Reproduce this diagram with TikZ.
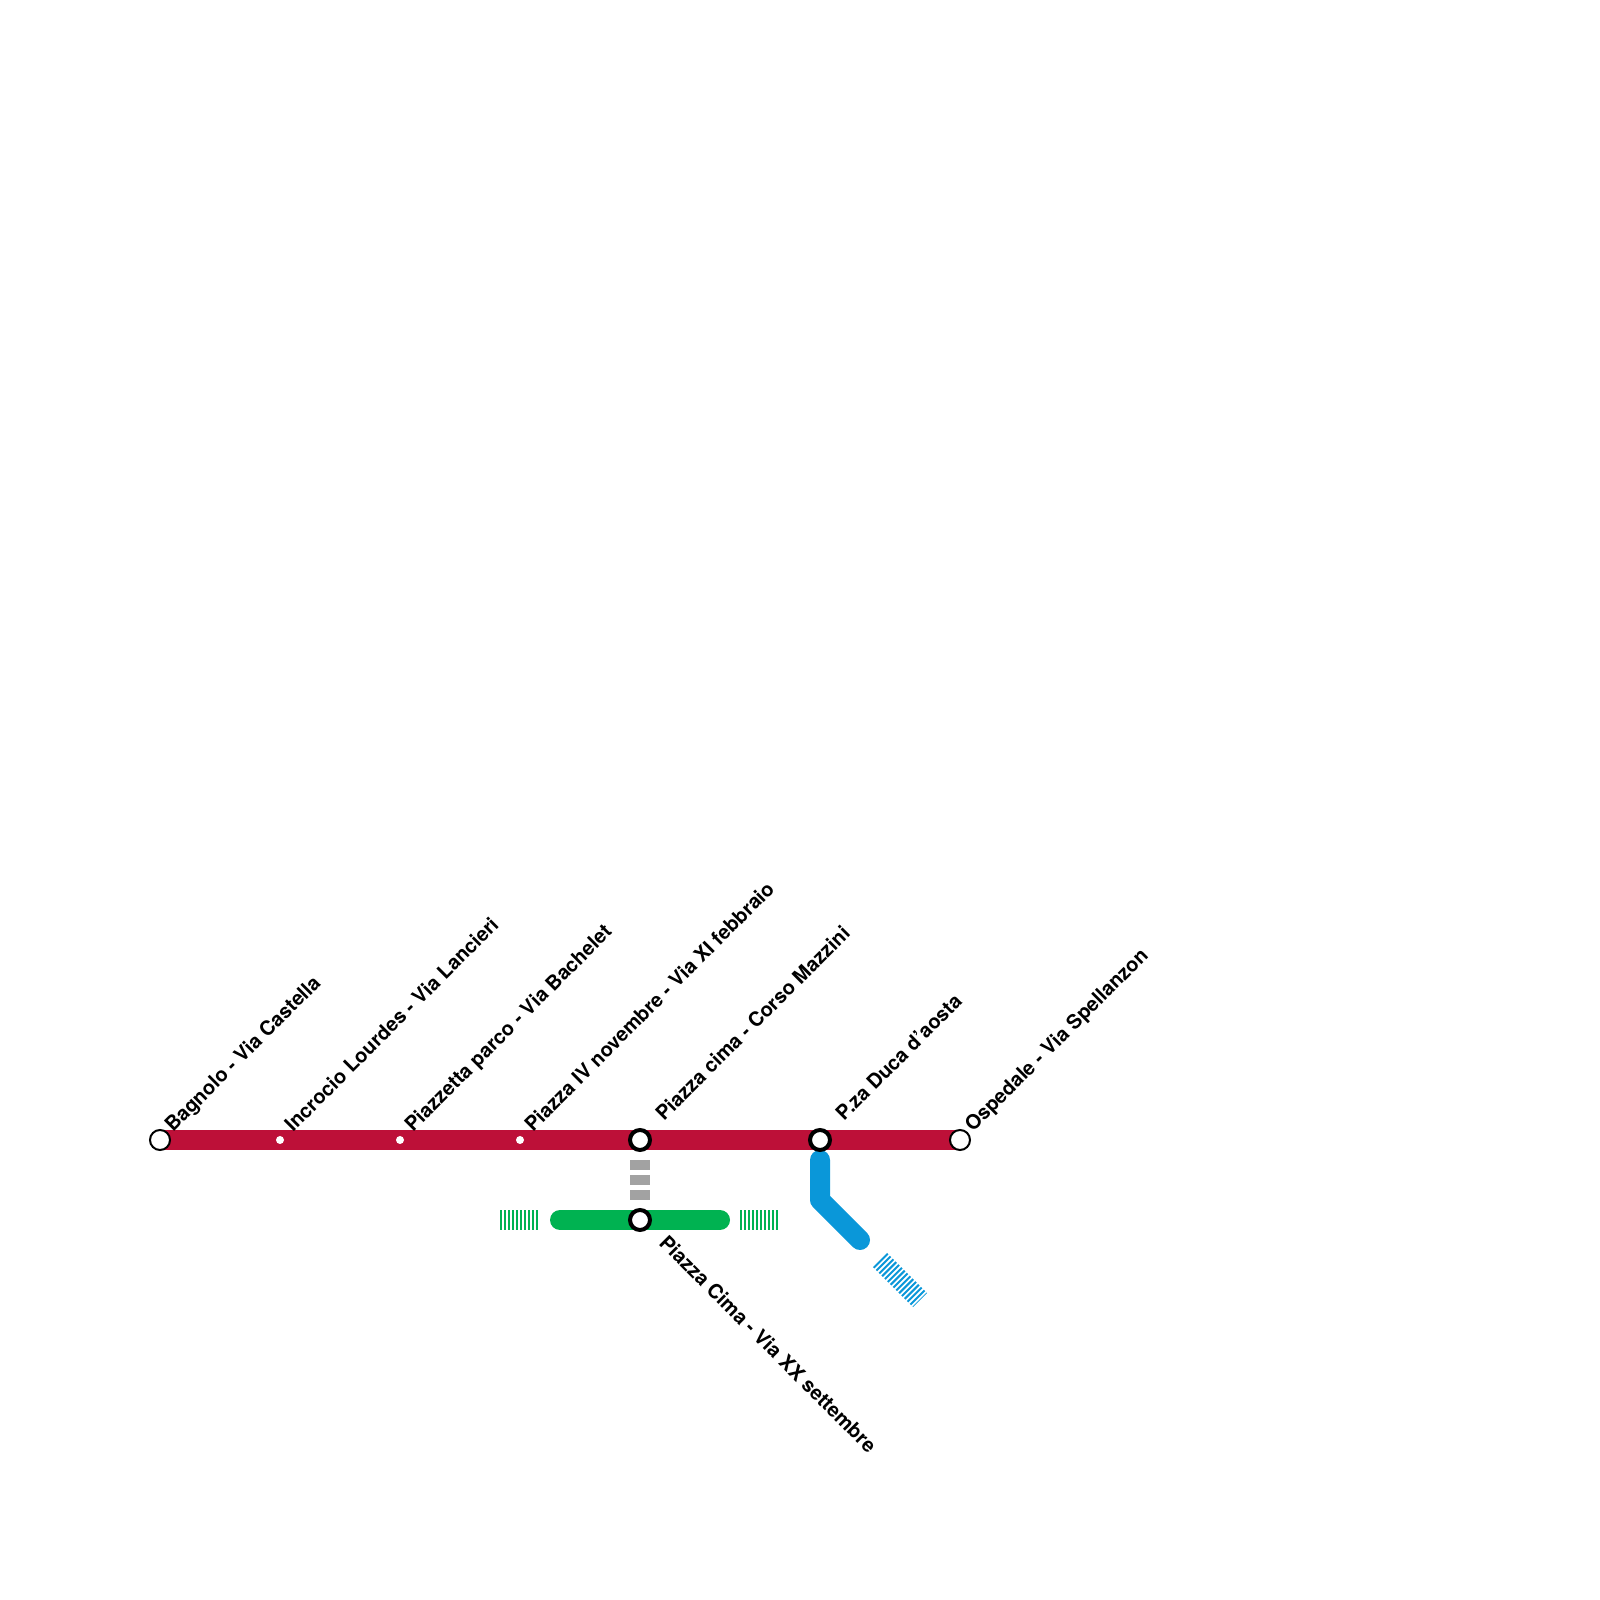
\documentclass[tikz,border=0pt]{standalone}
\usepackage{fontspec}
\setmainfont{TeX Gyre Heros}
\usetikzlibrary{backgrounds}
\definecolor{linered}{HTML}{BD1038}
\definecolor{linegreen}{HTML}{00B251}
\definecolor{lineblue}{HTML}{0A97D9}
\definecolor{linegray}{HTML}{A2A2A2}
\tikzset{
  endstn/.style={circle, draw=black, line width=0.02in, fill=white, inner sep=0pt, minimum size=0.2in},
  hubstn/.style={circle, draw=black, line width=0.04in, fill=white, inner sep=0pt, minimum size=0.2in},
  smallstn/.style={circle, fill=white, inner sep=0pt, minimum size=0.08in},
  stnlabel/.style={anchor=base west, inner sep=0pt, font=\bfseries\fontsize{14.45pt}{16pt}\selectfont},
  stripes/.style={line width=0.2in, dash pattern=on 0.02in off 0.02in},
}

\begin{document}
\begin{tikzpicture}[x=1in,y=1in]
\useasboundingbox (0,0) rectangle (16,16);
% stations
\node[endstn] (bagnolo) at (1.6000,4.6000) {};
\node[smallstn] (lourdes) at (2.8000,4.6000) {};
\node[smallstn] (parco) at (4.0000,4.6000) {};
\node[smallstn] (novembre) at (5.2000,4.6000) {};
\node[hubstn] (cima) at (6.4000,4.6000) {};
\node[hubstn] (duca) at (8.2000,4.6000) {};
\node[endstn] (ospedale) at (9.6000,4.6000) {};
\node[hubstn] (cimagreen) at (6.4000,3.8000) {};
% free ends
\coordinate (greenwest) at (5.6000,3.8000);
\coordinate (greeneast) at (7.2000,3.8000);
\coordinate (stripewesta) at (5.0000,3.8000);
\coordinate (stripewestb) at (5.4000,3.8000);
\coordinate (stripeeasta) at (7.4000,3.8000);
\coordinate (stripeeastb) at (7.8000,3.8000);
\coordinate (transfertop) at (6.4000,4.4000);
\coordinate (transferbot) at (6.4000,4.0000);
\coordinate (bluetop) at (8.2000,4.4000);
\coordinate (bluebend) at (8.2000,4.0000);
\coordinate (blueend) at (8.6000,3.6000);
\coordinate (stripebluea) at (8.8000,3.4000);
\coordinate (stripeblueb) at (9.2000,3.0000);
% lines
\begin{scope}[on background layer]
\draw[line width=0.2in, linered] (bagnolo.center) -- (ospedale.center);
\draw[line width=0.2in, linegreen, line cap=round] (greenwest) -- (greeneast);
\draw[line width=0.2in, lineblue, line cap=round, line join=round] (bluetop) -- (bluebend) -- (blueend);
\draw[line width=0.2in, linegray, dash pattern=on 0.1in off 0.05in] (transfertop) -- (transferbot);
\draw[stripes, linegreen] (stripewesta) -- (stripewestb);
\draw[stripes, linegreen] (stripeeasta) -- (stripeeastb);
\draw[stripes, lineblue] (stripebluea) -- (stripeblueb);
\end{scope}
% labels
\node[stnlabel, rotate=45] (bagnololabel) at (1.7300,4.6700) {Bagnolo - Via Castella};
\node[stnlabel, rotate=45] (lourdeslabel) at (2.9300,4.6700) {Incrocio Lourdes - Via Lancieri};
\node[stnlabel, rotate=45] (parcolabel) at (4.1300,4.6700) {Piazzetta parco - Via Bachelet};
\node[stnlabel, rotate=45] (novembrelabel) at (5.3300,4.6700) {Piazza IV novembre - Via XI febbraio};
\node[stnlabel, rotate=45] (cimalabel) at (6.6400,4.7800) {Piazza cima - Corso Mazzini};
\node[stnlabel, rotate=45] (ducalabel) at (8.4400,4.7800) {P.za Duca d'aosta};
\node[stnlabel, rotate=45] (ospedalelabel) at (9.7300,4.6700) {Ospedale - Via Spellanzon};
\node[stnlabel, rotate=-45] (cimagreenlabel) at (6.5800,3.5600) {Piazza Cima - Via XX settembre};
\end{tikzpicture}
\end{document}
